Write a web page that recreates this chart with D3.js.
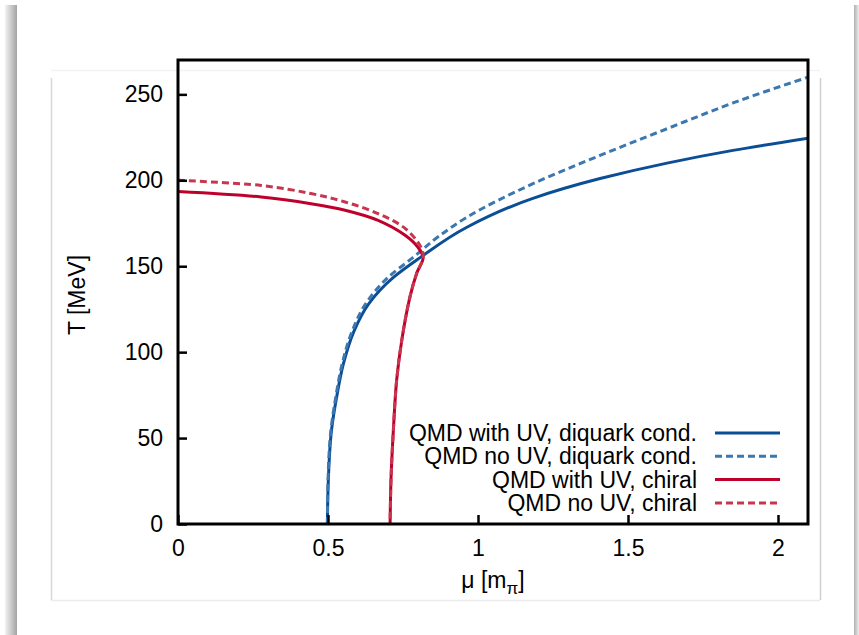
<!DOCTYPE html>
<html>
<head>
<meta charset="utf-8">
<script src="https://cdn.jsdelivr.net/npm/d3@7"></script>
<style>
  body { margin: 0; background: #fff; }
  svg { display: block; font-family: "Liberation Sans", Arial, sans-serif; }
</style>
</head>
<body>
<script>
// curves: [mu in m_pi, T in MeV]
var diquarkUV = [[0.498,0],[0.501,25],[0.512,55],[0.529,74],[0.551,93],[0.586,112],[0.635,128],[0.718,143.5],
  [0.807,155],[0.963,172.7],[1.183,189.5],[1.407,201],[1.63,210],[1.85,217.4],[2.1,224.5]];
var diquarkNoUV = [[0.498,0],[0.500,25],[0.510,55],[0.526,74],[0.547,93],[0.580,112],[0.625,128],[0.700,143.5],
  [0.783,155],[0.870,167.5],[0.963,178.5],[1.183,198],[1.407,214.5],[1.63,230],[1.85,245],[2.1,260]];
var chiralUV = [[0,193.5],[0.277,190.3],[0.443,186.4],[0.557,182.6],[0.667,176.7],[0.757,168],[0.80,161],
  [0.817,155],[0.796,146],[0.773,132],[0.746,107],[0.729,84],[0.718,55],[0.710,26],[0.707,0]];
var chiralNoUV = [[0,200],[0.277,197],[0.443,192.3],[0.557,187.4],[0.667,180.6],[0.757,172],[0.81,161],
  [0.817,155],[0.796,146],[0.773,132],[0.746,107],[0.729,84],[0.718,55],[0.710,26],[0.707,0]];

var seriesNames = ["QMD with UV, diquark cond.", "QMD no UV, diquark cond.", "QMD with UV, chiral", "QMD no UV, chiral"];
var seriesData = [diquarkUV, diquarkNoUV, chiralUV, chiralNoUV];
var seriesColors = ["#0b4e96", "#3b77b1", "#c0002c", "#c8354f"];
var seriesDash = [null, "7,4", null, "7,4"];

var xTicks = [0, 0.5, 1, 1.5, 2];
var yTicks = [0, 50, 100, 150, 200, 250];

var W = 859, H = 635;
var margin = {top: 60, right: 51, bottom: 111, left: 178};
var width = W - margin.left - margin.right;
var height = H - margin.top - margin.bottom;
var fontSize = "23px";

var svg = d3.select("body").append("svg")
  .attr("width", W)
  .attr("height", H);

// page frame / shadows
var defs = svg.append("defs");
var gl = defs.append("linearGradient").attr("id", "shadeL");
gl.append("stop").attr("offset", "0%").attr("stop-color", "#f2f2f2");
gl.append("stop").attr("offset", "100%").attr("stop-color", "#a4a4a4");
var gr = defs.append("linearGradient").attr("id", "shadeR");
gr.append("stop").attr("offset", "0%").attr("stop-color", "#b0b0b0");
gr.append("stop").attr("offset", "100%").attr("stop-color", "#eeeeee");
svg.append("rect").attr("x", 5).attr("y", 5).attr("width", 12).attr("height", H - 5).attr("fill", "url(#shadeL)");
svg.append("rect").attr("x", 854).attr("y", 5).attr("width", 5).attr("height", H - 5).attr("fill", "url(#shadeR)");

svg.append("line").attr("x1", 51).attr("x2", 820).attr("y1", 70.5).attr("y2", 70.5).attr("stroke", "#f2f2f2").attr("stroke-width", 1.5);
svg.append("line").attr("x1", 51).attr("x2", 820).attr("y1", 600.5).attr("y2", 600.5).attr("stroke", "#ececec").attr("stroke-width", 1.5);
svg.append("line").attr("x1", 51.5).attr("x2", 51.5).attr("y1", 78).attr("y2", 600).attr("stroke", "#d8d8d8").attr("stroke-width", 1.5);
svg.append("line").attr("x1", 820.5).attr("x2", 820.5).attr("y1", 78).attr("y2", 600).attr("stroke", "#d0d0d0").attr("stroke-width", 1.5);

var g = svg.append("g")
  .attr("transform", "translate(" + margin.left + "," + margin.top + ")");

var x = d3.scaleLinear().domain([0, 2.1]).range([0, width]);
var y = d3.scaleLinear().domain([0, 270]).range([height, 0]);

g.append("clipPath").attr("id", "plotclip")
  .append("rect").attr("width", width).attr("height", height);

// diquark lines are monotone in mu, chiral ones fold back
var lineMono = d3.line()
  .x(function(d){ return x(d[0]); })
  .y(function(d){ return y(d[1]); })
  .curve(d3.curveMonotoneY);
var lineFold = d3.line()
  .x(function(d){ return x(d[0]); })
  .y(function(d){ return y(d[1]); })
  .curve(d3.curveCatmullRom.alpha(0.5));

var curves = g.append("g").attr("clip-path", "url(#plotclip)");
seriesData.forEach(function(data, i){
  curves.append("path")
    .datum(data)
    .attr("d", i < 2 ? lineMono : lineFold)
    .attr("fill", "none")
    .attr("stroke", seriesColors[i])
    .attr("stroke-width", 3)
    .attr("stroke-dasharray", seriesDash[i]);
});

// axes: ticks point inward
var x_axis = d3.axisBottom(x).tickValues(xTicks).tickSize(-9).tickPadding(16)
  .tickFormat(function(d){ return d; });
var y_axis = d3.axisLeft(y).tickValues(yTicks).tickSize(-9).tickPadding(15);

var g_x = g.append("g").attr("transform", "translate(0," + height + ")").call(x_axis);
var g_y = g.append("g").call(y_axis);
[g_x, g_y].forEach(function(a){
  a.select(".domain").remove();
  a.selectAll(".tick line").attr("stroke", "#000").attr("stroke-width", 2.5);
  a.selectAll(".tick text").attr("fill", "#000").style("font-size", fontSize).style("font-family", "\"Liberation Sans\", Arial, sans-serif");
});

g.append("rect")
  .attr("width", width).attr("height", height)
  .attr("fill", "none").attr("stroke", "#000").attr("stroke-width", 3);

// axis labels
g.append("text")
  .attr("transform", "translate(" + (-93) + "," + (height / 2 + 3) + ") rotate(-90)")
  .style("text-anchor", "middle")
  .style("font-size", fontSize)
  .text("T [MeV]");

var xl = g.append("text")
  .attr("x", 315)
  .attr("y", height + 64)
  .style("text-anchor", "middle")
  .style("font-size", fontSize);
xl.append("tspan").text("\u03bc [m");
xl.append("tspan").attr("dy", 6).style("font-size", "17px").text("\u03c0");
xl.append("tspan").attr("dy", -6).text("]");

// legend
var legend = g.append("g").attr("transform", "translate(" + (697 - margin.left) + "," + (433 - margin.top) + ")");
seriesNames.forEach(function(name, i){
  var row = legend.append("g").attr("transform", "translate(0," + (i * 23.3) + ")");
  row.append("text")
    .attr("x", 0).attr("y", 0).attr("dy", "0.35em")
    .style("text-anchor", "end")
    .style("font-size", fontSize)
    .text(name);
  row.append("line")
    .attr("x1", 18).attr("x2", 83)
    .attr("stroke", seriesColors[i])
    .attr("stroke-width", 3)
    .attr("stroke-dasharray", seriesDash[i]);
});
</script>
</body>
</html>
